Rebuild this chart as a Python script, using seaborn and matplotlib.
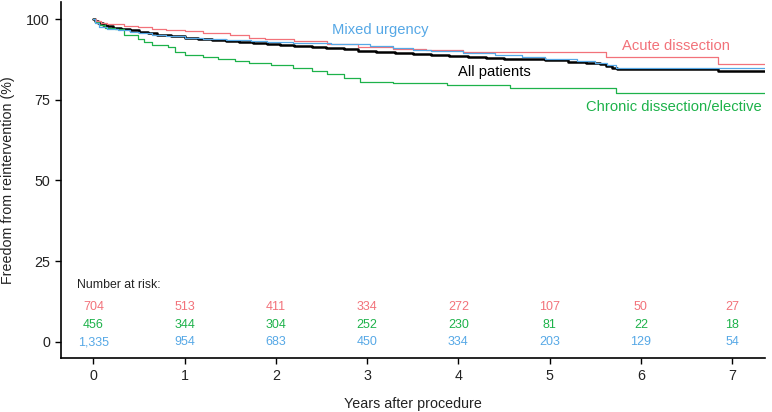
import numpy as np
import pandas as pd
import seaborn as sns
import matplotlib
matplotlib.use("Agg")
import matplotlib.pyplot as plt

# Kaplan-Meier step curves (years, % free from reintervention)
all_t = [0, 0.02, 0.05, 0.1, 0.15, 0.22, 0.3, 0.4, 0.5, 0.6, 0.7, 0.85, 1.0, 1.15, 1.3,
         1.45, 1.6, 1.75, 1.9, 2.05, 2.2, 2.4, 2.55, 2.75, 2.9, 3.1, 3.3, 3.5, 3.7, 3.9,
         4.1, 4.3, 4.5, 4.75, 4.95, 5.2, 5.4, 5.55, 5.62, 5.68, 5.74, 6.84, 7.36]
all_s = [100, 99.4, 98.9, 98.3, 97.8, 97.3, 96.9, 96.5, 96.1, 95.6, 95.1, 94.7, 94.2, 93.9, 93.6,
         93.3, 93.0, 92.7, 92.4, 92.1, 91.8, 91.4, 91.0, 90.7, 90.2, 89.9, 89.4, 89.1, 88.8, 88.5,
         88.3, 88.0, 87.8, 87.5, 87.2, 86.8, 86.5, 86.1, 85.6, 85.0, 84.5, 83.9, 83.9]

acute_t = [0, 0.03, 0.08, 0.15, 0.27, 0.34, 0.49, 0.64, 0.8, 1.0, 1.2, 1.5, 1.7, 1.88, 2.2,
           2.56, 2.9, 3.28, 3.65, 4.05, 5.62, 6.84, 7.36]
acute_s = [100, 99.3, 98.9, 98.6, 98.4, 98.0, 97.6, 96.8, 96.6, 96.4, 95.8, 95.0, 94.3, 93.7, 93.3,
           92.3, 91.4, 90.9, 90.4, 89.9, 88.3, 86.0, 86.0]

mixed_t = [0, 0.02, 0.06, 0.15, 0.27, 0.4, 0.5, 0.64, 0.8, 1.0, 1.2, 1.45, 1.73, 1.9, 2.19,
           2.6, 3.03, 3.28, 3.5, 3.7, 4.05, 4.4, 4.7, 4.95, 5.3, 5.5, 5.63, 5.73, 6.84, 7.36]
mixed_s = [100, 98.8, 97.6, 97.1, 96.6, 96.0, 95.6, 95.0, 94.7, 94.3, 93.9, 93.5, 93.1, 93.0, 92.6,
           92.3, 91.6, 91.2, 90.5, 90.0, 89.4, 88.9, 88.3, 87.8, 87.1, 86.3, 85.8, 85.0, 84.7, 84.7]

chronic_t = [0, 0.02, 0.06, 0.13, 0.24, 0.34, 0.49, 0.56, 0.64, 0.82, 0.89, 1.0, 1.2, 1.37,
             1.55, 1.7, 1.95, 2.19, 2.4, 2.56, 2.75, 2.92, 3.28, 3.87, 4.56, 5.73, 7.36]
chronic_s = [100, 99.0, 98.1, 97.4, 96.9, 95.0, 94.0, 93.0, 92.0, 91.4, 89.9, 88.9, 88.3, 87.5,
             87.0, 86.3, 85.8, 84.7, 84.0, 83.0, 81.8, 80.6, 80.1, 79.6, 78.5, 77.2, 77.2]

# number at risk table
risk_years = [0, 1, 2, 3, 4, 5, 6, 7]
risk_acute = ["704", "513", "411", "334", "272", "107", "50", "27"]
risk_chronic = ["456", "344", "304", "252", "230", "81", "22", "18"]
risk_mixed = ["1,335", "954", "683", "450", "334", "203", "129", "54"]

red = "#F2727A"
green = "#1DB24A"
blue = "#56A8E6"

sns.set_style("ticks")
plt.rcParams["font.family"] = ["Liberation Sans", "DejaVu Sans"]

fig = plt.figure(figsize=(7.72, 4.12), dpi=100)
ax = fig.add_axes([0.0784, 0.130, 0.9126, 0.865])

# thick black curve first, thin group curves over it
sns.lineplot(x=all_t, y=all_s, color="black", linewidth=1.8, drawstyle="steps-post",
             estimator=None, ax=ax)
for t, s, c in [(chronic_t, chronic_s, green), (acute_t, acute_s, red), (mixed_t, mixed_s, blue)]:
    sns.lineplot(x=t, y=s, color=c, linewidth=0.9, drawstyle="steps-post", estimator=None, ax=ax)

# curve labels
lab_fs = 10.6
ax.text(2.61, 96.6, "Mixed urgency", color=blue, fontsize=lab_fs, va="center", ha="left")
ax.text(5.79, 91.6, "Acute dissection", color=red, fontsize=lab_fs, va="center", ha="left")
ax.text(3.99, 83.6, "All patients", color="black", fontsize=lab_fs, va="center", ha="left")
ax.text(5.40, 72.8, "Chronic dissection/elective", color=green, fontsize=lab_fs,
        va="center", ha="left")

# number at risk
ax.text(-0.175, 17.6, "Number at risk:", fontsize=8.8, va="center", ha="left", color="#222222")
for row, c, yv in [(risk_acute, red, 10.8), (risk_chronic, green, 5.3), (risk_mixed, blue, -0.2)]:
    for x, n in zip(risk_years, row):
        ax.text(x, yv, n, color=c, fontsize=9, va="center", ha="center")

ax.set_xlim(-0.36, 7.36)
ax.set_ylim(-5.2, 105.3)
ax.set_xticks(risk_years)
ax.set_yticks([0, 25, 50, 75, 100])
ax.tick_params(labelsize=10.3, length=4, width=1, color="black", labelcolor="#222222")
ax.set_xlabel("Years after procedure", fontsize=10.3, labelpad=10, color="#222222")
ax.set_ylabel("Freedom from reintervention (%)", fontsize=10.3, labelpad=8, color="#222222")
sns.despine(ax=ax)
for sp in ["left", "bottom"]:
    ax.spines[sp].set_linewidth(1.2)
    ax.spines[sp].set_color("black")

fig.savefig("out.png", dpi=100)
